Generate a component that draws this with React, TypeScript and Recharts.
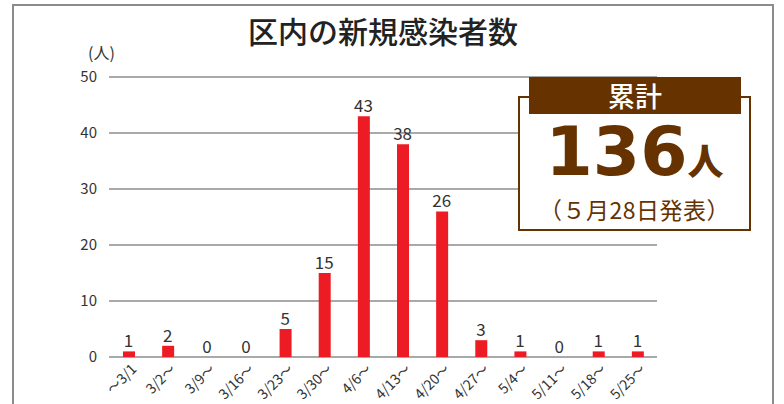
import { ComposedChart, Bar, Line, XAxis, YAxis, CartesianGrid, LabelList } from "recharts";

const weeks = ["～3/1", "3/2～", "3/9～", "3/16～", "3/23～", "3/30～", "4/6～", "4/13～", "4/20～", "4/27～", "5/4～", "5/11～", "5/18～", "5/25～"];
const cases = [1, 2, 0, 0, 5, 15, 43, 38, 26, 3, 1, 0, 1, 1];
const yTicks = [0, 10, 20, 30, 40, 50];

const data = weeks.map((week, i) => ({ week, cases: cases[i] }));

const font = '"Noto Sans CJK JP", "Noto Sans", sans-serif';
const brown = "#663300";

function WeekTick({ x, y, payload }: any) {
  const tx = x + 9;
  const ty = y + 5;
  return (
    <text
      x={tx}
      y={ty}
      transform={`rotate(-45, ${tx}, ${ty})`}
      textAnchor="end"
      fontSize={14}
      fill="#333"
      fontFamily={font}
    >
      {payload.value}
    </text>
  );
}

export default function App() {
  return (
    <div
      style={{
        position: "absolute",
        left: 0,
        top: 0,
        width: 784,
        height: 404,
        overflow: "hidden",
        background: "white",
        fontFamily: font,
      }}
    >
      {/* outer frame */}
      <div
        style={{
          position: "absolute",
          left: 12,
          top: 4,
          width: 758,
          height: 440,
          border: "2px solid #8c8c8c",
        }}
      />
      <div
        style={{
          position: "absolute",
          left: 0,
          width: 784,
          top: 12,
          textAlign: "center",
          paddingRight: 18,
          boxSizing: "border-box",
          fontSize: 30,
          fontWeight: 500,
          color: "#222",
          lineHeight: "36px",
        }}
      >
        区内の新規感染者数
      </div>
      <div style={{ position: "absolute", left: 88, top: 42, fontSize: 16, color: "#333", lineHeight: "20px" }}>
        (人)
      </div>

      <div style={{ position: "absolute", left: 0, top: 0 }}>
        <ComposedChart width={784} height={404} data={data} margin={{ top: 77, right: 127, bottom: 0, left: 49 }}>
          <CartesianGrid horizontal vertical={false} stroke="#8c8c8c" strokeWidth={1.5} />
          <XAxis
            dataKey="week"
            interval={0}
            axisLine={false}
            tickLine={false}
            height={47}
            tick={<WeekTick />}
          />
          <YAxis
            domain={[0, 50]}
            ticks={yTicks}
            width={60}
            axisLine={false}
            tickLine={false}
            tickMargin={6}
            tick={{ fontSize: 15, fill: "#333", fontFamily: font }}
          />
          <Bar dataKey="cases" fill="#ED1C24" barSize={12} isAnimationActive={false} />
          <Line dataKey="cases" stroke="none" dot={false} activeDot={false} isAnimationActive={false}>
            <LabelList dataKey="cases" position="top" offset={4} fill="#333" fontSize={17} fontFamily={font} />
          </Line>
        </ComposedChart>
      </div>

      {/* total box */}
      <div
        style={{
          position: "absolute",
          left: 518,
          top: 96,
          width: 233,
          height: 135,
          boxSizing: "border-box",
          border: `2px solid ${brown}`,
          background: "white",
        }}
      >
        <div
          style={{
            position: "absolute",
            left: 0,
            width: "100%",
            top: 26,
            textAlign: "center",
            color: brown,
            fontFamily: '"DejaVu Sans", sans-serif',
            fontSize: 68,
            lineHeight: "56px",
            whiteSpace: "nowrap",
          }}
        >
          <span style={{ fontWeight: 700 }}>136</span>
          <span style={{ fontSize: 36, fontWeight: 900, fontFamily: font }}>人</span>
        </div>
        <div
          style={{
            position: "absolute",
            left: 0,
            width: "100%",
            top: 99,
            textAlign: "center",
            color: brown,
            fontSize: 23,
            letterSpacing: 0.5,
            lineHeight: "24px",
            whiteSpace: "nowrap",
          }}
        >
          （５月28日発表）
        </div>
      </div>
      <div
        style={{
          position: "absolute",
          left: 529,
          top: 77,
          width: 212,
          height: 37,
          background: brown,
          color: "white",
          fontSize: 27,
          fontWeight: 500,
          textAlign: "center",
          lineHeight: "37px",
        }}
      >
        累計
      </div>
    </div>
  );
}
